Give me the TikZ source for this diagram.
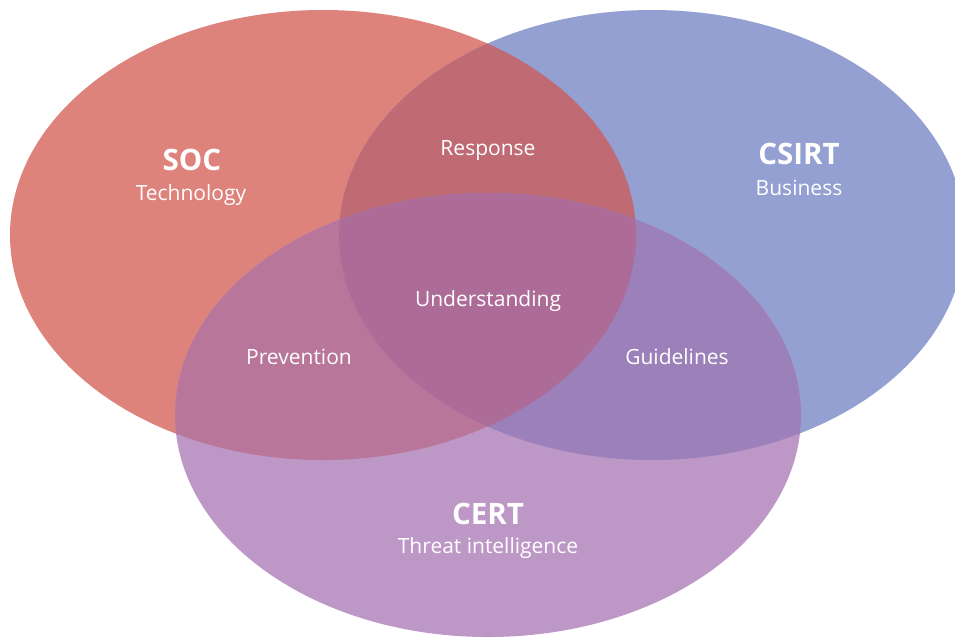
\documentclass[tikz,border=0pt]{standalone}
\usepackage{fontspec}
\setmainfont{Open Sans}
\definecolor{socred}{HTML}{DE827C}
\definecolor{csirtblue}{HTML}{93A0D1}
\definecolor{certpurple}{HTML}{BD98C7}
\definecolor{rbmix}{HTML}{C06A74}
\definecolor{rpmix}{HTML}{B8769A}
\definecolor{bpmix}{HTML}{9C80B9}
\definecolor{allmix}{HTML}{AD6C98}
\tikzset{
  lbl/.style={text=white, inner sep=0pt, font=\fontsize{21}{24}\selectfont},
  ttl/.style={text=white, inner sep=0pt, font=\bfseries\fontsize{29.5}{33}\selectfont}
}
\begin{document}
\begin{tikzpicture}[x=1pt,y=-1pt]
\path[use as bounding box, fill=white] (0,0) rectangle (955,638);
% base sets
\fill[socred] (323,235) ellipse [x radius=313pt, y radius=225pt];
\fill[csirtblue] (652,235) ellipse [x radius=313pt, y radius=225pt];
\fill[certpurple] (488,415) ellipse [x radius=313pt, y radius=222pt];
% pairwise overlaps
\begin{scope}
  \clip (323,235) ellipse [x radius=313pt, y radius=225pt];
  \fill[rbmix] (652,235) ellipse [x radius=313pt, y radius=225pt];
  \fill[rpmix] (488,415) ellipse [x radius=313pt, y radius=222pt];
\end{scope}
\begin{scope}
  \clip (652,235) ellipse [x radius=313pt, y radius=225pt];
  \fill[bpmix] (488,415) ellipse [x radius=313pt, y radius=222pt];
\end{scope}
% triple overlap
\begin{scope}
  \clip (323,235) ellipse [x radius=313pt, y radius=225pt];
  \clip (652,235) ellipse [x radius=313pt, y radius=225pt];
  \fill[allmix] (488,415) ellipse [x radius=313pt, y radius=222pt];
\end{scope}
% labels
\node[ttl] (soc) at (192,160) {SOC};
\node[lbl] (soct) at (191,195) {Technology};
\node[ttl] (csirt) at (799,154) {CSIRT};
\node[lbl] (csirtt) at (799,188) {Business};
\node[ttl] (cert) at (488,514) {CERT};
\node[lbl] (certt) at (488,548) {Threat intelligence};
\node[lbl] (resp) at (488,151) {Response};
\node[lbl] (und) at (488,301) {Understanding};
\node[lbl] (prev) at (299,357) {Prevention};
\node[lbl] (guide) at (677,357) {Guidelines};
\end{tikzpicture}
\end{document}
